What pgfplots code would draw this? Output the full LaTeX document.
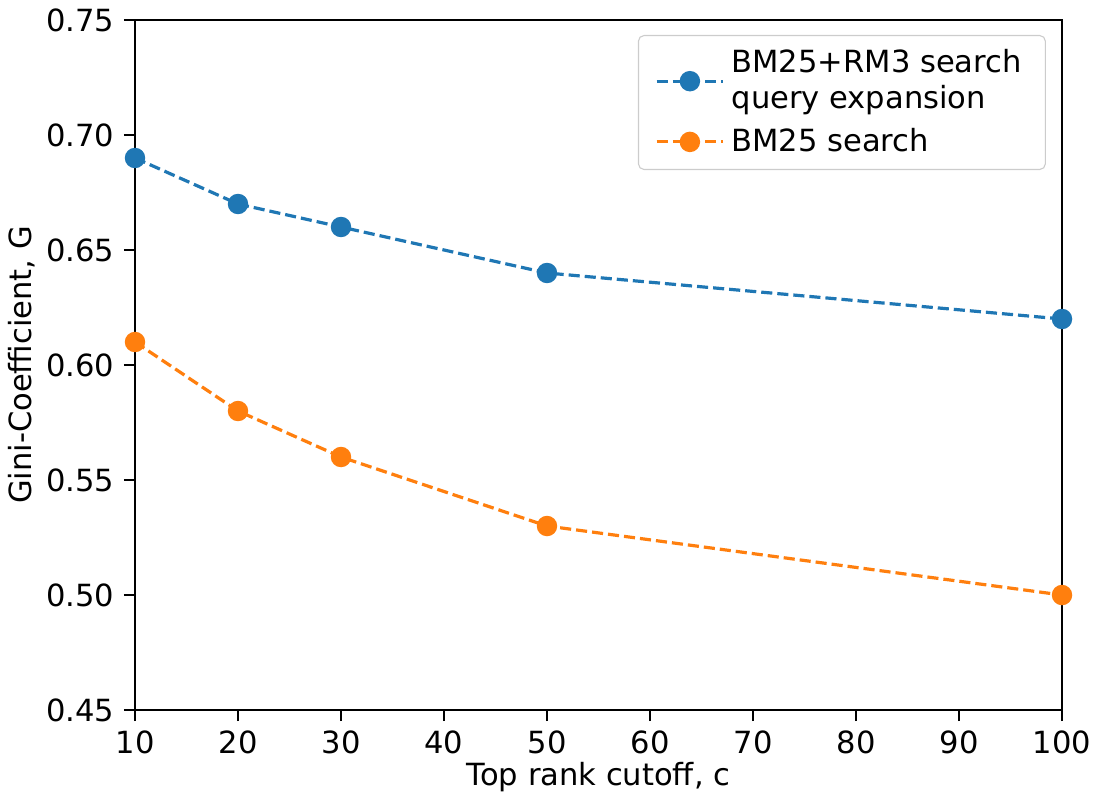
\documentclass[border=0pt]{standalone}
\usepackage{pgfplots}
\pgfplotsset{compat=1.18}
\usepackage{fontspec}
\setmainfont{DejaVu Sans}
\definecolor{tabblue}{HTML}{1F77B4}
\definecolor{taborange}{HTML}{FF7F0E}
\begin{document}
\begin{tikzpicture}
\begin{axis}[
  name=ax,
  scale only axis,
  width=333.7pt, height=248.4pt,
  xmin=10, xmax=100, ymin=0.45, ymax=0.75,
  xtick={10,20,...,100},
  ytick={0.45,0.50,...,0.76},
  yticklabel style={/pgf/number format/fixed,/pgf/number format/fixed zerofill,/pgf/number format/precision=2},
  /pgf/number format/assume math mode=true,
  tick align=outside,
  xtick pos=left, ytick pos=left,
  major tick length=4pt,
  tick style={black, line width=0.6pt},
  axis line style={line width=0.6pt},
  font=\fontsize{11pt}{13pt}\selectfont,
  xlabel={Top rank cutoff, c},
  ylabel={Gini-Coefficient, G},
  xlabel style={yshift=4pt},
  ylabel style={yshift=-3pt},
  legend style={at={(1,1)}, anchor=north east, xshift=-5.8pt, yshift=-5.4pt,
    draw=black!20, rounded corners=2pt, inner xsep=6pt, inner ysep=2.5pt,
    nodes={align=left, inner sep=2.5pt}, row sep=0.5pt},
  legend cell align=left,
  legend image code/.code={\draw[mark repeat=2,mark phase=2] plot coordinates {(0cm,0cm) (0.42cm,0cm) (0.84cm,0cm)};},
]
\addplot[tabblue, dash pattern=on 4pt off 1.8pt, line width=1.15pt, mark=*, mark size=3.1pt, mark options={solid}]
  coordinates {(10,0.69) (20,0.67) (30,0.66) (50,0.64) (100,0.62)};
\addlegendentry{BM25+RM3 search\\query expansion}
\addplot[taborange, dash pattern=on 4pt off 1.8pt, line width=1.15pt, mark=*, mark size=3.1pt, mark options={solid}]
  coordinates {(10,0.61) (20,0.58) (30,0.56) (50,0.53) (100,0.50)};
\addlegendentry{BM25 search}
\end{axis}
\pgfresetboundingbox
\useasboundingbox ([xshift=-48.6pt,yshift=-31.7pt]ax.south west) rectangle ([xshift=12.6pt,yshift=7.2pt]ax.north east);
\end{tikzpicture}
\end{document}
